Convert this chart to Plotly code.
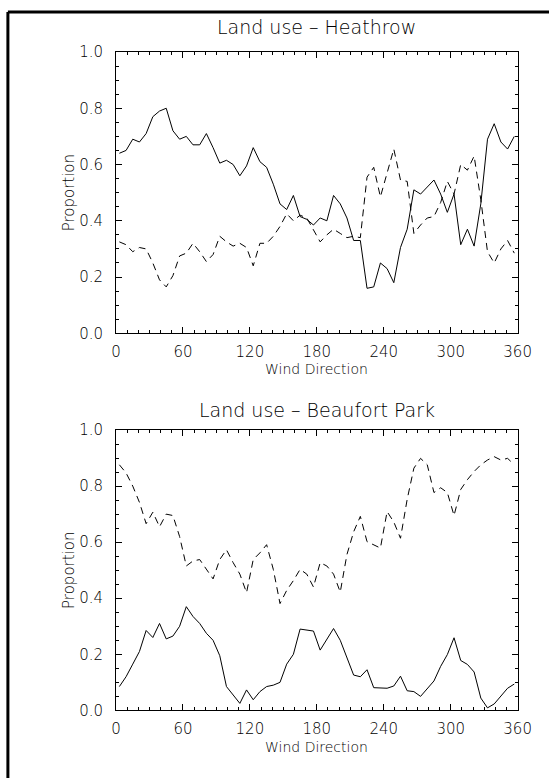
import plotly.graph_objects as go

# ---------------- data ----------------
directions = [3, 9, 15, 21, 27, 33, 39, 45, 51, 57,
              63, 69, 75, 81, 87, 93, 99, 105, 111, 117,
              123, 129, 135, 141, 147, 153, 159, 165, 171, 177,
              183, 189, 195, 201, 207, 213, 219, 225, 231, 237,
              243, 249, 255, 261, 267, 273, 279, 285, 291, 297,
              303, 309, 315, 321, 327, 333, 339, 345, 351, 357]

heathrow_solid = [0.64, 0.65, 0.69, 0.68, 0.71, 0.77, 0.79, 0.80, 0.72, 0.69,
                  0.70, 0.67, 0.67, 0.71, 0.66, 0.605, 0.615, 0.60, 0.56, 0.595,
                  0.66, 0.61, 0.59, 0.53, 0.46, 0.44, 0.49, 0.415, 0.405, 0.385,
                  0.41, 0.40, 0.49, 0.46, 0.41, 0.33, 0.33, 0.16, 0.165, 0.25,
                  0.23, 0.18, 0.305, 0.37, 0.51, 0.495, 0.52, 0.545, 0.495, 0.43,
                  0.495, 0.315, 0.37, 0.31, 0.46, 0.69, 0.745, 0.68, 0.655, 0.70]

heathrow_dashed = [0.325, 0.315, 0.29, 0.305, 0.30, 0.25, 0.19, 0.165, 0.205, 0.275,
                   0.285, 0.32, 0.29, 0.255, 0.28, 0.345, 0.325, 0.31, 0.32, 0.305,
                   0.24, 0.32, 0.32, 0.345, 0.38, 0.425, 0.40, 0.42, 0.41, 0.365,
                   0.325, 0.35, 0.37, 0.355, 0.34, 0.345, 0.34, 0.555, 0.59, 0.485,
                   0.57, 0.655, 0.545, 0.54, 0.355, 0.385, 0.41, 0.415, 0.465, 0.54,
                   0.495, 0.60, 0.58, 0.63, 0.475, 0.29, 0.25, 0.30, 0.33, 0.285]

beaufort_solid = [0.085, 0.12, 0.165, 0.21, 0.285, 0.26, 0.31, 0.255, 0.265, 0.30,
                  0.37, 0.335, 0.31, 0.275, 0.25, 0.195, 0.085, 0.055, 0.025, 0.073,
                  0.038, 0.067, 0.085, 0.09, 0.10, 0.165, 0.20, 0.29, 0.286, 0.283,
                  0.215, 0.253, 0.292, 0.25, 0.19, 0.126, 0.12, 0.145, 0.081, 0.079,
                  0.079, 0.087, 0.122, 0.07, 0.067, 0.05, 0.076, 0.105, 0.157, 0.199,
                  0.259, 0.178, 0.164, 0.137, 0.044, 0.009, 0.023, 0.052, 0.079, 0.094]

beaufort_dashed = [0.876, 0.847, 0.80, 0.742, 0.666, 0.707, 0.655, 0.70, 0.695, 0.62,
                   0.515, 0.533, 0.538, 0.503, 0.469, 0.538, 0.573, 0.527, 0.486, 0.42,
                   0.538, 0.562, 0.591, 0.503, 0.381, 0.428, 0.463, 0.503, 0.486, 0.44,
                   0.527, 0.515, 0.486, 0.422, 0.556, 0.637, 0.692, 0.602, 0.591, 0.579,
                   0.709, 0.672, 0.614, 0.753, 0.864, 0.899, 0.876, 0.777, 0.794, 0.777,
                   0.695, 0.788, 0.823, 0.852, 0.876, 0.893, 0.905, 0.893, 0.899, 0.876]

panel_titles = ["Land use \u2013 Heathrow", "Land use \u2013 Beaufort Park"]
x_title = "Wind Direction"
y_title = "Proportion"
x_ticks = [0, 60, 120, 180, 240, 300, 360]
y_ticks = [0.0, 0.2, 0.4, 0.6, 0.8, 1.0]

# ---------------- layout geometry (pixels) ----------------
W, H = 549, 778
X_LEFT, X_RIGHT = 115, 531
PANELS = [(44, 332), (431, 718)]   # (top, bottom) pixel rows of each plot box
TITLE_GAP = [26, 21]               # title centre above each plot box
FRAME_L, FRAME_T = 3, 3            # outer frame line positions

FONT = "DejaVu Sans"
INK = "#000000"


def fx(px):
    return px / W


def fy(py):
    return 1 - py / H


fig = go.Figure()

series = [(heathrow_solid, heathrow_dashed, "x", "y"),
          (beaufort_solid, beaufort_dashed, "x2", "y2")]
for solid, dashed, xa, ya in series:
    fig.add_trace(go.Scatter(x=directions, y=solid, mode="lines",
                             line=dict(color=INK, width=1),
                             xaxis=xa, yaxis=ya, showlegend=False, hoverinfo="skip"))
    fig.add_trace(go.Scatter(x=directions, y=dashed, mode="lines",
                             line=dict(color=INK, width=1, dash="7px,5px"),
                             xaxis=xa, yaxis=ya, showlegend=False, hoverinfo="skip"))

tick_font = dict(family=FONT, size=15, color=INK, weight=300)


def xaxis_cfg(anchor):
    return dict(domain=[fx(X_LEFT), fx(X_RIGHT)], anchor=anchor, range=[0, 360],
                tickvals=x_ticks, ticktext=[str(v) for v in x_ticks],
                ticks="inside", ticklen=6, tickwidth=1, tickcolor=INK,
                minor=dict(dtick=10, tick0=0, ticks="inside", ticklen=3,
                           tickwidth=1, tickcolor=INK, showgrid=False),
                showline=True, linecolor=INK, linewidth=1, mirror="ticks",
                showgrid=False, zeroline=False, tickfont=tick_font,
                ticklabelstandoff=5, fixedrange=True)


def yaxis_cfg(anchor, top, bottom):
    return dict(domain=[fy(bottom), fy(top)], anchor=anchor, range=[0, 1],
                tickvals=y_ticks, ticktext=[f"{v:.1f}" for v in y_ticks],
                ticks="inside", ticklen=6, tickwidth=1, tickcolor=INK,
                minor=dict(dtick=0.05, tick0=0, ticks="inside", ticklen=3,
                           tickwidth=1, tickcolor=INK, showgrid=False),
                showline=True, linecolor=INK, linewidth=1, mirror="ticks",
                showgrid=False, zeroline=False, tickfont=tick_font,
                ticklabelstandoff=9, fixedrange=True)


annotations = []
cx = (X_LEFT + X_RIGHT) / 2
for i, (top, bottom) in enumerate(PANELS):
    annotations.append(dict(text=panel_titles[i], x=fx(cx), y=fy(top - TITLE_GAP[i]),
                            xref="paper", yref="paper", showarrow=False,
                            xanchor="center", yanchor="middle",
                            font=dict(family=FONT, size=19, color=INK, weight=300)))
    annotations.append(dict(text=x_title, x=fx(cx), y=fy(bottom + 37),
                            xref="paper", yref="paper", showarrow=False,
                            xanchor="center", yanchor="middle",
                            font=dict(family=FONT, size=14, color=INK, weight=300)))
    annotations.append(dict(text=y_title, x=fx(X_LEFT - 49), y=fy((top + bottom) / 2),
                            xref="paper", yref="paper", showarrow=False,
                            textangle=-90, xanchor="center", yanchor="middle",
                            font=dict(family=FONT, size=15, color=INK, weight=300)))

frame_line = dict(color=INK, width=3)
shapes = [
    dict(type="line", xref="paper", yref="paper",
         x0=fx(FRAME_L), x1=1.05, y0=fy(FRAME_T), y1=fy(FRAME_T), line=frame_line),
    dict(type="line", xref="paper", yref="paper",
         x0=fx(FRAME_L), x1=fx(FRAME_L), y0=fy(FRAME_T), y1=-0.05, line=frame_line),
]

fig.update_layout(
    width=W, height=H,
    margin=dict(l=0, r=0, t=0, b=0),
    paper_bgcolor="white", plot_bgcolor="white",
    font=dict(family=FONT, color=INK),
    xaxis=xaxis_cfg("y"), yaxis=yaxis_cfg("x", *PANELS[0]),
    xaxis2=xaxis_cfg("y2"), yaxis2=yaxis_cfg("x2", *PANELS[1]),
    annotations=annotations, shapes=shapes,
    showlegend=False,
)

fig.write_html("out.html", config={"displayModeBar": False, "staticPlot": True})
